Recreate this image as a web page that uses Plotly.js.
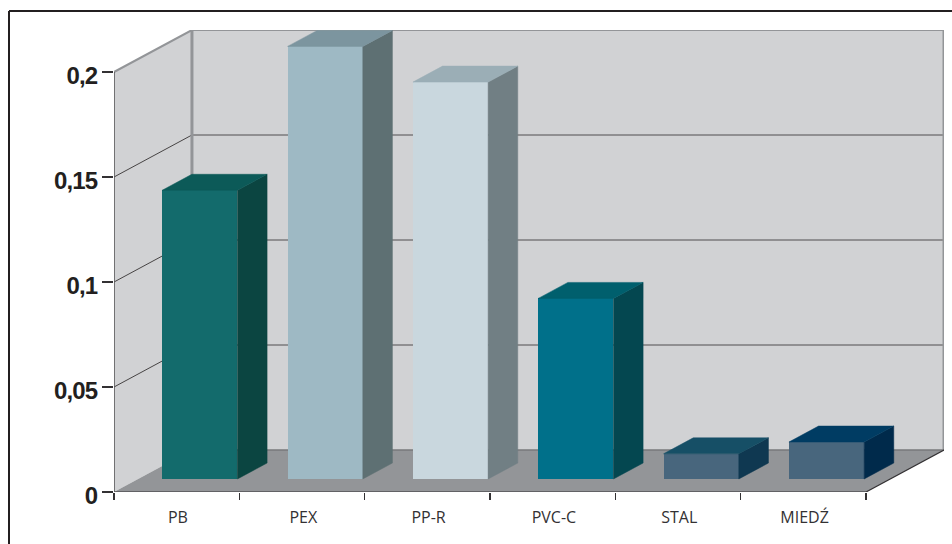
<!DOCTYPE html>
<html>
<head>
<meta charset="utf-8">
<script src="https://cdn.plot.ly/plotly-3.0.1.min.js"></script>
<style>
html,body{margin:0;padding:0;background:#fff}
.ytick text{letter-spacing:-0.9px}
</style>
</head>
<body>
<div id="chart" style="width:952px;height:544px"></div>
<script>
// Pipe materials and their values
const categories = ['PB', 'PEX', 'PP-R', 'PVC-C', 'STAL', 'MIEDŹ'];
const values = [0.1375, 0.206, 0.189, 0.086, 0.012, 0.0176];

// Face colours per bar
const frontColors = ['#136b6c', '#9eb9c4', '#c9d7de', '#00708a', '#48667d', '#48667d'];
const sideColors = ['#0b4541', '#5e7073', '#717f84', '#044750', '#0f3851', '#002a4b'];
const topColors = ['#0c5a58', '#7c959f', '#9baeb6', '#005f6d', '#164f66', '#003c63'];

const yTicks = [0, 0.05, 0.1, 0.15, 0.2];
const yLabels = ['0', '0,05', '0,1', '0,15', '0,2'];

// Oblique projection: one unit of depth moves a point this far on each axis
const DX = 0.622, DY = 0.02;
const X0 = -0.5, X1 = X0 + categories.length;
const YTOP = 0.2;
const BAR_WIDTH = 0.6, BAR_SHIFT = 0.185, D_FRONT = 0.31, D_BACK = 0.69;

const pt = (x, y, d) => [x + d * DX, y + d * DY];
const path = pts => 'M' + pts.map(p => p.join(',')).join('L') + 'Z';
const open = pts => 'M' + pts.map(p => p.join(',')).join('L');

const WALL = '#d1d2d4', FLOOR = '#939598', EDGE = '#939598', INK = '#333133';

const poly = (pts, fill) => ({type: 'path', xref: 'x', yref: 'y', layer: 'below',
  path: path(pts), fillcolor: fill, line: {width: 0}});
const stroke = (pts, color, width) => ({type: 'path', xref: 'x', yref: 'y', layer: 'below',
  path: open(pts), fillcolor: 'rgba(0,0,0,0)', line: {color, width}});

const shapes = [
  // Room: back wall, side wall, floor
  poly([pt(X0, 0, 1), pt(X1, 0, 1), pt(X1, 0.22 - DY, 1), pt(X0, 0.22 - DY, 1)], WALL),
  poly([pt(X0, 0, 0), pt(X0, 0, 1), pt(X0, YTOP, 1), pt(X0, YTOP, 0)], WALL),
  poly([pt(X0, 0, 0), pt(X1, 0, 0), pt(X1, 0, 1), pt(X0, 0, 1)], FLOOR)
];

// Gridlines run across the side wall and along the back wall
yTicks.slice(1, -1).forEach(v => {
  shapes.push(stroke([pt(X0, v, 0), pt(X0, v, 1)], '#231f20', 0.8));
  shapes.push(stroke([pt(X0, v, 1), pt(X1, v, 1)], '#414042', 0.9));
});

shapes.push(
  // Wall outlines
  stroke([pt(X0, YTOP, 0), pt(X0, YTOP, 1), pt(X1, YTOP, 1), pt(X1, 0, 1)], EDGE, 2),
  stroke([pt(X0, YTOP, 1), pt(X0, 0, 1)], EDGE, 3),
  stroke([pt(X1, YTOP, 1), pt(X1, 0, 1)], EDGE, 3),
  stroke([pt(X0, 0, 1), pt(X1, 0, 1)], '#77787b', 1.5),
  // Front floor edge and value axis
  stroke([pt(X0, 0, 0), pt(X1, 0, 0), pt(X1, 0, 1)], INK, 1.2),
  stroke([pt(X0, YTOP, 0), pt(X0, 0, 0)], '#58595b', 1.6),
  // Frame around the figure
  {type: 'line', xref: 'paper', yref: 'paper', x0: -105 / 830, x1: 838 / 830, y0: 1 + 19 / 462, y1: 1 + 19 / 462,
    line: {color: '#231f20', width: 2}},
  {type: 'line', xref: 'paper', yref: 'paper', x0: -105 / 830, x1: -105 / 830, y0: 1 + 19 / 462, y1: -52 / 462,
    line: {color: '#231f20', width: 2}}
);

const barX = categories.map((_, i) => i + BAR_SHIFT);
const barBase = D_FRONT * DY;

const traces = [{
  type: 'bar',
  x: barX,
  y: values,
  base: values.map(() => barBase),
  width: values.map(() => BAR_WIDTH),
  marker: {color: frontColors, line: {width: 0}},
  hoverinfo: 'skip',
  showlegend: false
}];

// Side and top faces are extruded from each bar's value
values.forEach((v, i) => {
  const l = barX[i] - BAR_WIDTH / 2 - D_FRONT * DX;
  const r = barX[i] + BAR_WIDTH / 2 - D_FRONT * DX;
  const side = [pt(r, 0, D_FRONT), pt(r, 0, D_BACK), pt(r, v, D_BACK), pt(r, v, D_FRONT), pt(r, 0, D_FRONT)];
  const top = [pt(l, v, D_FRONT), pt(r, v, D_FRONT), pt(r, v, D_BACK), pt(l, v, D_BACK), pt(l, v, D_FRONT)];
  [[side, sideColors[i]], [top, topColors[i]]].forEach(([pts, color]) => {
    traces.push({
      type: 'scatter', mode: 'lines', fill: 'toself', fillcolor: color,
      x: pts.map(p => p[0]), y: pts.map(p => p[1]),
      line: {color: color, width: 0.5},
      cliponaxis: false, hoverinfo: 'skip', showlegend: false
    });
  });
});

const layout = {
  width: 952, height: 544,
  margin: {l: 114, r: 8, t: 30, b: 52},
  paper_bgcolor: '#ffffff', plot_bgcolor: 'rgba(0,0,0,0)',
  showlegend: false,
  bargap: 0,
  xaxis: {
    type: 'linear',
    range: [X0, X1 + DX],
    showgrid: false, zeroline: false, showline: false,
    tickmode: 'array',
    tickvals: categories.map((_, i) => i + 0.01),
    ticktext: categories,
    ticks: 'outside', ticklen: 11, tickcolor: 'rgba(0,0,0,0)',
    tickfont: {family: '"Open Sans", "Noto Sans", sans-serif', size: 16, color: '#333133'},
    minor: {
      tickmode: 'array',
      tickvals: categories.map((_, i) => X0 + i).concat([X1]),
      ticks: 'outside', ticklen: 7, tickwidth: 1.2, tickcolor: '#333133', showgrid: false
    }
  },
  yaxis: {
    range: [0, 0.22],
    showgrid: false, zeroline: false, showline: false,
    tickmode: 'array',
    tickvals: yTicks,
    ticktext: yLabels,
    ticks: 'outside', ticklen: 11, tickwidth: 1.2, tickcolor: '#333133',
    ticklabelshift: 4,
    tickfont: {family: '"Liberation Sans", sans-serif', size: 24, weight: 700, color: '#231f20'}
  },
  shapes: shapes
};

Plotly.newPlot('chart', traces, layout, {displayModeBar: false, staticPlot: true});
</script>
</body>
</html>
